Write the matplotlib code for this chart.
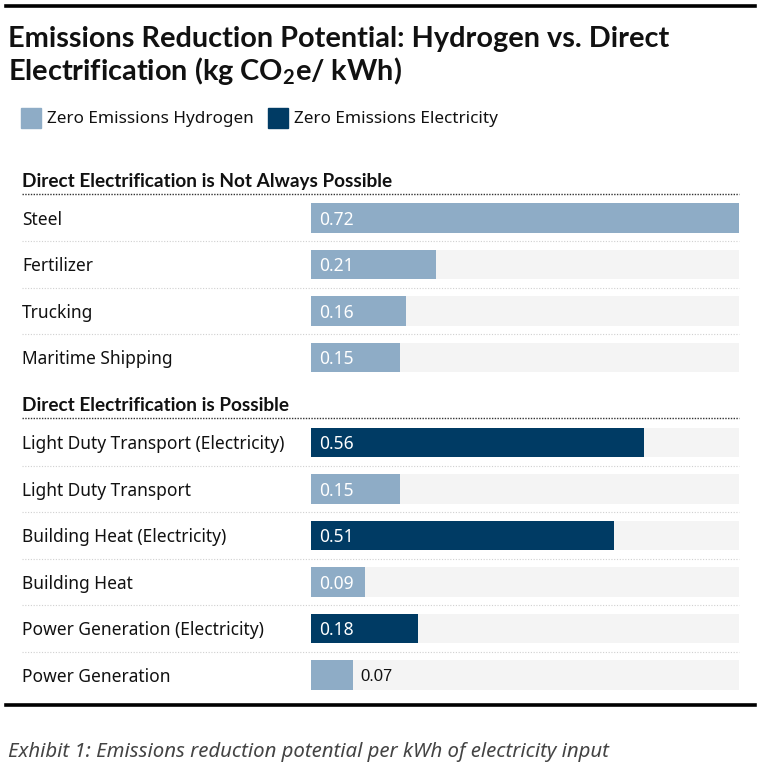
import matplotlib
matplotlib.use("Agg")
import matplotlib.pyplot as plt
from matplotlib.patches import Rectangle

# data
group1_title = "Direct Electrification is Not Always Possible"
group1_labels = ["Steel", "Fertilizer", "Trucking", "Maritime Shipping"]
group1_values = [0.72, 0.21, 0.16, 0.15]
group1_kind = ["h2", "h2", "h2", "h2"]

group2_title = "Direct Electrification is Possible"
group2_labels = ["Light Duty Transport (Electricity)", "Light Duty Transport",
                 "Building Heat (Electricity)", "Building Heat",
                 "Power Generation (Electricity)", "Power Generation"]
group2_values = [0.56, 0.15, 0.51, 0.09, 0.18, 0.07]
group2_kind = ["el", "h2", "el", "h2", "el", "h2"]

legend_names = {"h2": "Zero Emissions Hydrogen", "el": "Zero Emissions Electricity"}
colors = {"h2": "#8eacc6", "el": "#003b64"}
xmax = 0.72

W, H = 761, 771
FONT = ["Noto Sans", "DejaVu Sans"]
BOLD = ["Lato", "DejaVu Sans"]
plt.rcParams["font.family"] = FONT
plt.rcParams["mathtext.fontset"] = "custom"
plt.rcParams["mathtext.bf"] = "Lato:bold"
plt.rcParams["mathtext.rm"] = "Lato:bold"

fig = plt.figure(figsize=(W / 100, H / 100), dpi=100)

def fx(px):
    return px / W

def fy(py):
    return 1 - py / H

# row positions (header gap of ~1.83 rows between groups)
gap = 1.83
y1 = list(range(len(group1_labels)))
y2 = [len(group1_labels) - 1 + gap + j for j in range(len(group2_labels))]
ys = y1 + y2
labels = group1_labels + group2_labels
values = group1_values + group2_values
kinds = group1_kind + group2_kind

row_px = 46.5
top_px = 218 - 0.5 * row_px
bot_px = 218 + (ys[-1] + 0.5) * row_px
ax = fig.add_axes([fx(311), fy(bot_px), fx(739) - fx(311), fy(top_px) - fy(bot_px)])
ax.set_xlim(0, xmax)
ax.set_ylim(ys[-1] + 0.5, -0.5)
ax.axis("off")

bh = 0.63
ax.barh(ys, [xmax] * len(ys), height=bh, color="#f4f4f4", zorder=1)
ax.barh(ys, values, height=bh, color=[colors[k] for k in kinds], zorder=2)

trans = matplotlib.transforms.blended_transform_factory(fig.transFigure, ax.transData)
for y, lab, v in zip(ys, labels, values):
    ax.text(fx(22), y + 0.04, lab, transform=trans, ha="left", va="center",
            fontsize=12.5, color="#111111")
    # value label inside the bar, or just past it when the bar is short
    if v >= 0.09:
        ax.text(0.013, y + 0.04, f"{v:.2f}", ha="left", va="center", fontsize=12.5,
                color="white", zorder=3)
    else:
        ax.text(v + 0.013, y + 0.04, f"{v:.2f}", ha="left", va="center", fontsize=12,
                color="#111111", family="Liberation Sans", zorder=3)

# light separators between rows inside each group
for grp in (y1, y2):
    for y in grp[:-1]:
        ax.plot([fx(22), fx(739)], [y + 0.5] * 2, transform=trans, color="#d0d0d0",
                lw=0.8, ls=(0, (1, 1.5)), clip_on=False)

# group headers with dotted underline
for title, first in ((group1_title, y1[0]), (group2_title, y2[0])):
    ax.text(fx(22), first - 0.79, title, transform=trans, ha="left", va="center",
            fontsize=13.7, fontweight="bold", family=BOLD, color="#111111", clip_on=False)
    ax.plot([fx(22), fx(739)], [first - 0.52] * 2, transform=trans, color="#333333",
            lw=1.0, ls=(0, (1, 1)), clip_on=False)

# top and bottom rules
fig.add_artist(plt.Line2D([fx(6), fx(755)], [fy(6)] * 2, color="black", lw=2.6))
fig.add_artist(plt.Line2D([fx(6), fx(755)], [fy(705)] * 2, color="black", lw=2.6))

# title
fig.text(fx(8), fy(39), "Emissions Reduction Potential: Hydrogen vs. Direct",
         ha="left", va="center", fontsize=20.8, fontweight="bold", family=BOLD,
         color="#111111")
fig.text(fx(8), fy(71), "Electrification (kg CO$_\\mathbf{2}$e/ kWh)",
         ha="left", va="center", fontsize=20.8, fontweight="bold", family=BOLD,
         color="#111111")

# legend
lx = 21
for k in ("h2", "el"):
    fig.add_artist(Rectangle((fx(lx), fy(128)), fx(20), fy(108) - fy(128),
                             color=colors[k], transform=fig.transFigure))
    fig.text(fx(lx + 26), fy(119), legend_names[k], ha="left", va="center",
             fontsize=12.3, color="#111111")
    lx = 268

# caption
fig.text(fx(8), fy(752), "Exhibit 1: Emissions reduction potential per kWh of electricity input",
         ha="left", va="center", fontsize=14.7, style="italic", color="#444444")

fig.savefig("out.png", dpi=100, facecolor="white")
